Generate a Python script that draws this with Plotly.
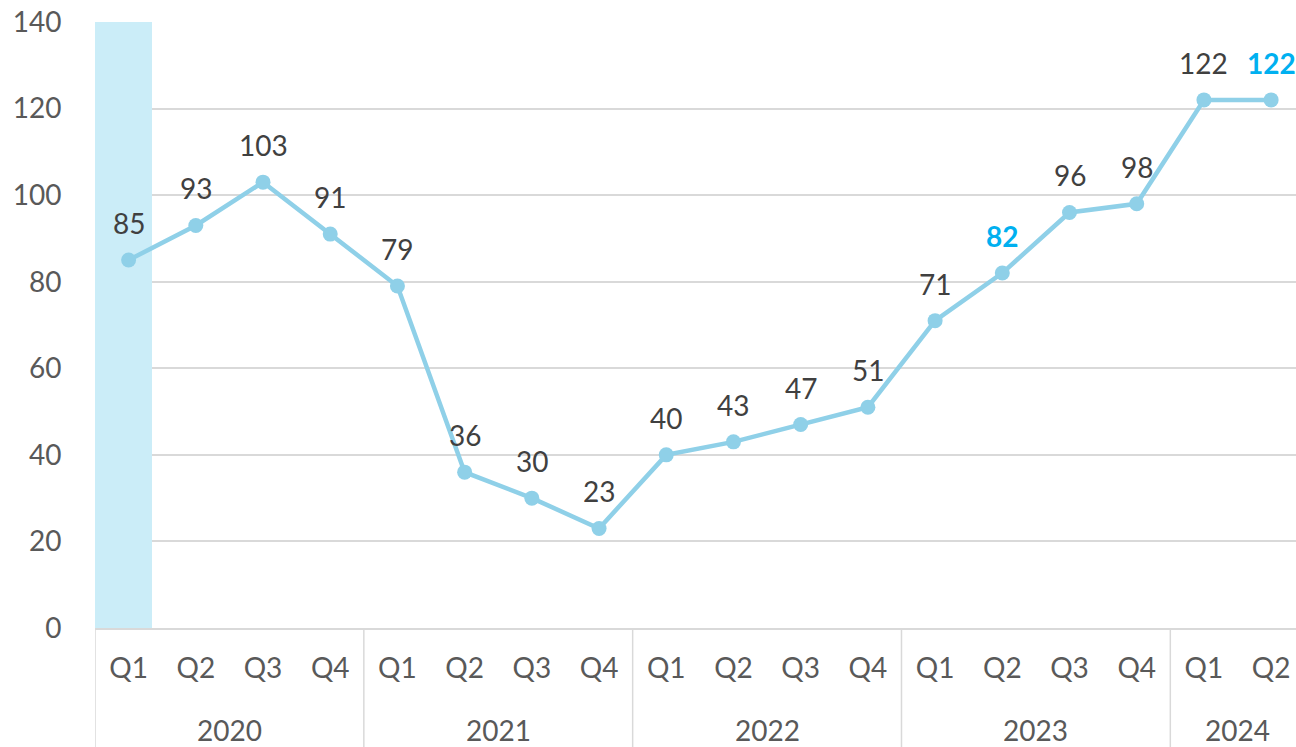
import plotly.graph_objects as go

quarters = ["Q1", "Q2", "Q3", "Q4", "Q1", "Q2", "Q3", "Q4", "Q1", "Q2", "Q3", "Q4",
            "Q1", "Q2", "Q3", "Q4", "Q1", "Q2"]
years = ["2020", "2021", "2022", "2023", "2024"]
year_sizes = [4, 4, 4, 4, 2]
values = [85, 93, 103, 91, 79, 36, 30, 23, 40, 43, 47, 51, 71, 82, 96, 98, 122, 122]
highlight = [False] * 13 + [True] + [False] * 3 + [True]
shade_index = 0
shade_value = 140

FONT = "Lato"
LINE_COLOR = "#8fd0e8"
x = list(range(len(values)))

fig = go.Figure()
fig.add_trace(go.Bar(x=[shade_index], y=[shade_value], width=[0.85], offset=-0.5,
                     marker=dict(color="#cbedf8", line=dict(width=0)),
                     hoverinfo="skip", showlegend=False))
fig.add_trace(go.Scatter(x=x, y=values, mode="lines+markers",
                         line=dict(color=LINE_COLOR, width=4.5),
                         marker=dict(color=LINE_COLOR, size=15),
                         showlegend=False))

for i, v in enumerate(values):
    hl = highlight[i]
    fig.add_annotation(x=i, y=v, text=f"<b>{v}</b>" if hl else str(v),
                       showarrow=False, yshift=37,
                       font=dict(family=FONT, size=28,
                                 color="#00b0f0" if hl else "#404040"))

# year group labels and dividers
start = 0
bounds = [start - 0.5]
for y, n in zip(years, year_sizes):
    center = start + (n - 1) / 2
    fig.add_annotation(x=center, y=0, yref="paper", yanchor="middle", yshift=-102,
                       text=y, showarrow=False,
                       font=dict(family=FONT, size=28, color="#595959"))
    start += n
    bounds.append(start - 0.5)
for b in bounds:
    fig.add_shape(type="line", x0=b, x1=b, xref="x", y0=0, y1=-0.2, yref="paper",
                  line=dict(color="#d9d9d9", width=1.5), layer="below")

fig.update_layout(
    width=1296, height=747,
    margin=dict(l=95, r=0, t=22, b=119, autoexpand=False),
    plot_bgcolor="white", paper_bgcolor="white",
    bargap=0,
    xaxis=dict(range=[-0.5, 17.37], tickmode="array", tickvals=x, ticktext=quarters,
               automargin=False,
               showgrid=False, zeroline=False, showline=True, linecolor="#d9d9d9",
               linewidth=1.5, ticks="outside", ticklen=15, tickcolor="rgba(0,0,0,0)",
               tickfont=dict(family=FONT, size=28, color="#595959")),
    yaxis=dict(range=[0, 140], dtick=20, showgrid=True, gridcolor="#d9d9d9",
               gridwidth=1.5, zeroline=False, showline=False, automargin=False,
               ticks="outside", ticklen=27, tickcolor="rgba(0,0,0,0)",
               tickfont=dict(family=FONT, size=28, color="#595959")),
)

fig.write_html("out.html", config={"displayModeBar": False},
               post_script="document.body.style.margin='0';document.body.style.overflow='hidden';")
